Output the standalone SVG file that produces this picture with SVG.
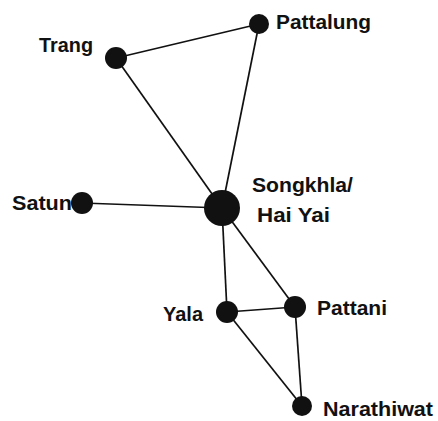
<svg xmlns="http://www.w3.org/2000/svg" width="438" height="421" viewBox="0 0 438 421">
<style>
.lbl{font-family:"Liberation Sans","Arial",sans-serif;font-weight:bold;font-size:20px;fill:#111}
.node{fill:#111}
.edge{stroke:#111;stroke-width:1.7;fill:none}
</style>
<rect width="438" height="421" fill="#fff"/>
<g id="connectors">
<line class="edge" x1="116" y1="58" x2="259" y2="24"/>
<line class="edge" x1="116" y1="58" x2="222" y2="208"/>
<line class="edge" x1="259" y1="24" x2="222" y2="208"/>
<line class="edge" x1="82" y1="203" x2="222" y2="208"/>
<line class="edge" x1="222" y1="208" x2="227" y2="312"/>
<line class="edge" x1="222" y1="208" x2="295" y2="307"/>
<line class="edge" x1="227" y1="312" x2="295" y2="307"/>
<line class="edge" x1="227" y1="312" x2="302" y2="406"/>
<line class="edge" x1="295" y1="307" x2="302" y2="406"/>
</g>
<g id="trang"><circle class="node" cx="116" cy="58" r="11"/><text class="lbl" x="39" y="52" textLength="54" lengthAdjust="spacingAndGlyphs">Trang</text></g>
<g id="pattalung"><circle class="node" cx="259" cy="24" r="10"/><text class="lbl" x="276" y="29" textLength="95" lengthAdjust="spacingAndGlyphs">Pattalung</text></g>
<g id="satun"><circle class="node" cx="82" cy="203" r="11"/><text class="lbl" x="12" y="210" textLength="60" lengthAdjust="spacingAndGlyphs">Satun</text></g>
<g id="songkhla"><circle class="node" cx="222" cy="208" r="18"/><text class="lbl" x="252" y="192" textLength="101" lengthAdjust="spacingAndGlyphs">Songkhla/</text><text class="lbl" x="257" y="222" textLength="73" lengthAdjust="spacingAndGlyphs">Hai Yai</text></g>
<g id="yala"><circle class="node" cx="227" cy="312" r="11"/><text class="lbl" x="163" y="321" textLength="40" lengthAdjust="spacingAndGlyphs">Yala</text></g>
<g id="pattani"><circle class="node" cx="295" cy="307" r="11"/><text class="lbl" x="317" y="315" textLength="70" lengthAdjust="spacingAndGlyphs">Pattani</text></g>
<g id="narathiwat"><circle class="node" cx="302" cy="406" r="10"/><text class="lbl" x="323" y="416" textLength="110" lengthAdjust="spacingAndGlyphs">Narathiwat</text></g>
</svg>
